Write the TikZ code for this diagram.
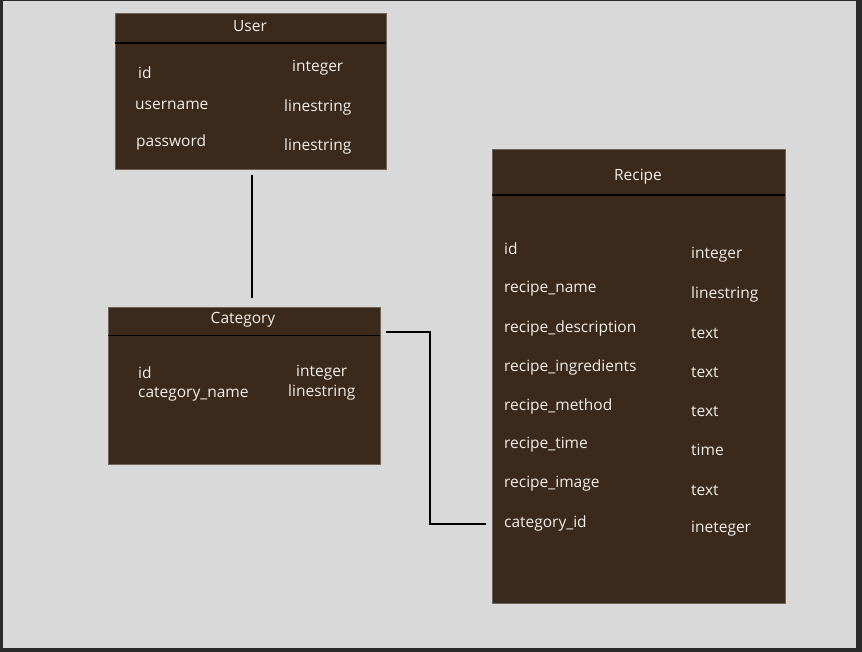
\documentclass[tikz,border=0pt]{standalone}
\usepackage{fontspec}
\setmainfont{Open Sans}
\definecolor{bgc}{HTML}{D9D9D9}
\definecolor{framec}{HTML}{2B2B2B}
\definecolor{boxc}{HTML}{3B2A1C}
\definecolor{boxedge}{HTML}{6E6458}
\definecolor{txtc}{HTML}{F2EEE8}
\begin{document}
\begin{tikzpicture}[x=1pt,y=-1pt,
  tbl/.style={draw=boxedge,line width=0.6pt,fill=boxc,anchor=north west,inner sep=0pt},
  hdr/.style={text=txtc,font=\fontsize{15.5}{17}\selectfont,inner sep=0pt},
  fld/.style={text=txtc,font=\fontsize{15.5}{17}\selectfont,inner sep=0pt,anchor=west},
  sep/.style={black,line width=1.8pt},
  link/.style={black,line width=1.6pt}]
\fill[framec] (0,0) rectangle (862,652);
\fill[bgc] (3,1) rectangle (855.5,648);
\useasboundingbox (0,0) rectangle (862,652);
% User
\node[tbl,minimum width=271.5pt,minimum height=155.5pt] (user) at (114.5,13.5) {};
\draw[sep] (114.5,43) -- (386,43);
\node[hdr] (userh) at (250,26) {User};
\node[fld] (u1) at (138,73) {id};
\node[fld] (u2) at (135,105) {username};
\node[fld] (u3) at (136,142) {password};
\node[fld] (u4) at (292,68) {integer};
\node[fld] (u5) at (284,107) {linestring};
\node[fld] (u6) at (284,146) {linestring};
% Category
\node[tbl,minimum width=272pt,minimum height=157pt] (cat) at (108,307) {};
\draw[sep] (108,335.5) -- (380,335.5);
\node[hdr] (cath) at (243,320) {Category};
\node[fld] (c1) at (138,373) {id};
\node[fld] (c2) at (138,394) {category\_name};
\node[fld] (c3) at (296,373) {integer};
\node[fld] (c4) at (288,392) {linestring};
% Recipe
\node[tbl,minimum width=293pt,minimum height=454pt] (rec) at (492,149) {};
\draw[sep] (492,195) -- (785,195);
\node[hdr] (rech) at (638,177) {Recipe};
\node[fld] (r1) at (504,249) {id};
\node[fld] (r2) at (504,289) {recipe\_name};
\node[fld] (r3) at (504,328) {recipe\_description};
\node[fld] (r4) at (504,367) {recipe\_ingredients};
\node[fld] (r5) at (504,406) {recipe\_method};
\node[fld] (r6) at (504,445) {recipe\_time};
\node[fld] (r7) at (504,484) {recipe\_image};
\node[fld] (r8) at (504,523) {category\_id};
\node[fld] (t1) at (691,255) {integer};
\node[fld] (t2) at (691,294) {linestring};
\node[fld] (t3) at (691,333) {text};
\node[fld] (t4) at (691,372) {text};
\node[fld] (t5) at (691,411) {text};
\node[fld] (t6) at (691,450) {time};
\node[fld] (t7) at (691,490) {text};
\node[fld] (t8) at (691,529) {ineteger};
% connectors
\coordinate (ua) at (252,175);
\coordinate (cb) at (252,298);
\draw[link] (ua) -- (cb);
\coordinate (ca) at (386,332);
\coordinate (rb) at (486,524);
\draw[link] (ca) -- (430,332) -- (430,524) -- (rb);
\end{tikzpicture}
\end{document}
